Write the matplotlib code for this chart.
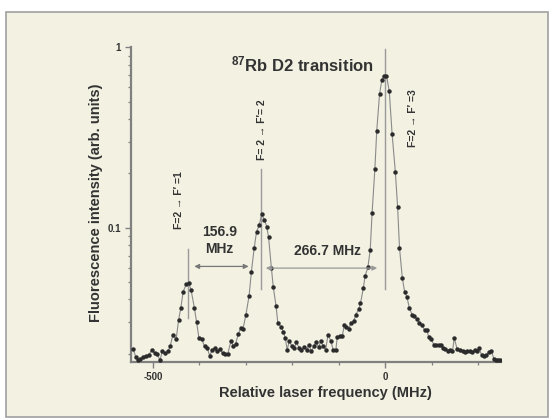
import matplotlib
matplotlib.use('Agg')
import matplotlib.pyplot as plt
from matplotlib.patches import Rectangle
from matplotlib.ticker import FixedLocator, LogLocator, NullFormatter

plt.rcParams['font.family'] = ['Liberation Sans', 'DejaVu Sans']
plt.rcParams['font.weight'] = 'bold'
plt.rcParams['axes.labelweight'] = 'bold'
plt.rcParams['mathtext.fontset'] = 'custom'
plt.rcParams['mathtext.rm'] = 'Liberation Sans:bold'
plt.rcParams['mathtext.bf'] = 'Liberation Sans:bold'

# measured spectrum, frequency relative to F=2 -> F'=3 (MHz)
freq = [-543, -537, -533, -527, -521, -515, -509, -503, -496, -491,
        -485, -480, -474, -468, -463, -457, -450, -445, -440, -435,
        -428, -423, -418, -411, -406, -401, -395, -389, -383, -378,
        -372, -367, -362, -356, -350, -344, -339, -332, -327, -322,
        -316, -311, -306, -300, -293, -288, -282, -277, -271, -266,
        -260, -255, -251, -245, -241, -235, -231, -224, -219, -215,
        -211, -206, -201, -196, -191, -185, -181, -175, -169, -164,
        -159, -153, -149, -143, -139, -133, -128, -123, -117, -112,
        -106, -103, -97, -92, -88, -84, -78, -74, -68, -63,
        -57, -53, -47, -43, -37, -32, -28, -22, -18, -12,
        -7, -2, 3, 9, 15, 22, 27, 31, 37, 42,
        47, 52, 58, 63, 69, 74, 80, 85, 90, 94,
        99, 105, 110, 116, 120, 125, 130, 135, 140, 145,
        149, 155, 161, 167, 172, 176, 182, 188, 193, 198,
        202, 208, 212, 218, 223, 229, 234, 239, 244, 248]

intensity = [0.0213, 0.0192, 0.0184, 0.0188, 0.0193, 0.0195, 0.0197, 0.0209, 0.0201, 0.0199,
             0.0184, 0.0206, 0.0201, 0.0206, 0.0220, 0.0255, 0.0241, 0.0306, 0.0360, 0.0442,
             0.0488, 0.0492, 0.0452, 0.0361, 0.0299, 0.0244, 0.0241, 0.0220, 0.0215, 0.0195,
             0.0211, 0.0215, 0.0206, 0.0213, 0.0201, 0.0199, 0.0199, 0.0236, 0.0220, 0.0227,
             0.0258, 0.0278, 0.0276, 0.0327, 0.0419, 0.0571, 0.0771, 0.0948, 0.1037, 0.1186,
             0.1109, 0.1014, 0.0886, 0.0600, 0.0472, 0.0369, 0.0295, 0.0282, 0.0264, 0.0244,
             0.0211, 0.0236, 0.0220, 0.0215, 0.0231, 0.0215, 0.0211, 0.0217, 0.0211, 0.0225,
             0.0206, 0.0220, 0.0231, 0.0217, 0.0234, 0.0220, 0.0211, 0.0255, 0.0236, 0.0211,
             0.0211, 0.0249, 0.0252, 0.0252, 0.0288, 0.0282, 0.0276, 0.0295, 0.0302, 0.0330,
             0.0353, 0.0381, 0.0462, 0.0541, 0.0605, 0.0757, 0.1213, 0.2124, 0.3451, 0.5505,
             0.6590, 0.6982, 0.6982, 0.5701, 0.3327, 0.2050, 0.1297, 0.0774, 0.0528, 0.0442,
             0.0413, 0.0361, 0.0330, 0.0323, 0.0311, 0.0298, 0.0288, 0.0270, 0.0270, 0.0247,
             0.0241, 0.0225, 0.0225, 0.0223, 0.0225, 0.0215, 0.0213, 0.0208, 0.0211, 0.0206,
             0.0244, 0.0213, 0.0211, 0.0206, 0.0204, 0.0206, 0.0208, 0.0204, 0.0211, 0.0208,
             0.0215, 0.0197, 0.0195, 0.0197, 0.0204, 0.0208, 0.0188, 0.0184, 0.0184, 0.0184]

# hyperfine transitions: position and extent of the marker lines
peak_freqs = [-423.6, -266.7, 0.0]
peak_line_lo = [0.0316, 0.0458, 0.0458]
peak_line_hi = [0.0764, 0.212, 0.978]
peak_labels = ["F=2 \u2192 F\u2032 =1", "F= 2 \u2192 F\u2032= 2", "F=2 \u2192 F\u2032 =3"]
label_pos = [(-444, 0.142), (-266, 0.348), (61, 0.404)]

fig = plt.figure(figsize=(5.51, 4.18), dpi=100, facecolor='white')
fig.patches.append(Rectangle((6 / 551, 1 / 418), 542 / 551, 405 / 418,
                             transform=fig.transFigure, facecolor='#f3f1e2',
                             edgecolor='#a0a0a0', linewidth=1.2, zorder=-10))

ax = fig.add_axes([130.7 / 551, 56 / 418, 370 / 551, 314.6 / 418])
ax.patch.set_alpha(0)

gray = '#808080'
dark = '#333333'

ax.plot(freq, intensity, '-', color='#8a8a8a', linewidth=0.8, zorder=2)
ax.plot(freq, intensity, 'o', color='#2b2b2b', markersize=3.2, markeredgewidth=0, zorder=3)

for f, lo, hi in zip(peak_freqs, peak_line_lo, peak_line_hi):
    ax.plot([f, f], [lo, hi], color='#9a9a9a', linewidth=1.0, zorder=1)

for (x, y), txt in zip(label_pos, peak_labels):
    ax.text(x, y, txt, rotation=90, ha='center', va='center', fontsize=7.5, color=dark)

# splittings between neighbouring transitions
ax.annotate('', xy=(-411, 0.061), xytext=(-294, 0.061),
            arrowprops=dict(arrowstyle='<|-|>', color='#777777', lw=0.9,
                            mutation_scale=7, shrinkA=0, shrinkB=0))
ax.annotate('', xy=(-257, 0.0597), xytext=(-17, 0.0597),
            arrowprops=dict(arrowstyle='<|-|>', color='#999999', lw=0.9,
                            mutation_scale=7, shrinkA=0, shrinkB=0))
ax.text(-357, 0.085, '156.9\nMHz', ha='center', va='center', fontsize=10,
        color=dark, linespacing=1.35)
ax.text(-125, 0.074, '266.7 MHz', ha='center', va='center', fontsize=10, color=dark)

ax.text(-179, 0.80, r'$\mathbf{^{87}}$Rb D2 transition', ha='center', va='center',
        fontsize=12, color=dark)

ax.set_yscale('log')
ax.set_xlim(-548, 249)
ax.set_ylim(0.018, 1)

ax.xaxis.set_major_locator(FixedLocator([-500, 0]))
ax.xaxis.set_minor_locator(FixedLocator([-400, -300, -200, -100, 100, 200]))
ax.set_xticklabels(['-500', '0'])
ax.yaxis.set_major_locator(FixedLocator([0.1, 1]))
ax.set_yticklabels(['0.1', '1'])
ax.yaxis.set_minor_locator(LogLocator(base=10, subs=range(2, 10)))
ax.yaxis.set_minor_formatter(NullFormatter())

for side in ['top', 'right']:
    ax.spines[side].set_visible(False)
for side in ['left', 'bottom']:
    ax.spines[side].set_color(gray)
    ax.spines[side].set_linewidth(1.6)

ax.tick_params(which='major', direction='out', length=4, width=1, color=gray,
               labelsize=7, labelcolor=dark, pad=3)
ax.tick_params(which='minor', direction='out', length=2.5, width=0.9, color=gray)

ax.set_xlabel('Relative laser frequency (MHz)', fontsize=10.5, color=dark)
ax.xaxis.set_label_coords(0.525, -0.075)
ax.set_ylabel('Fluorescence intensity (arb. units)', fontsize=10.5, color=dark)
ax.yaxis.set_label_coords(-0.075, 0.505)

fig.savefig('out.png', dpi=100, facecolor=fig.get_facecolor())
